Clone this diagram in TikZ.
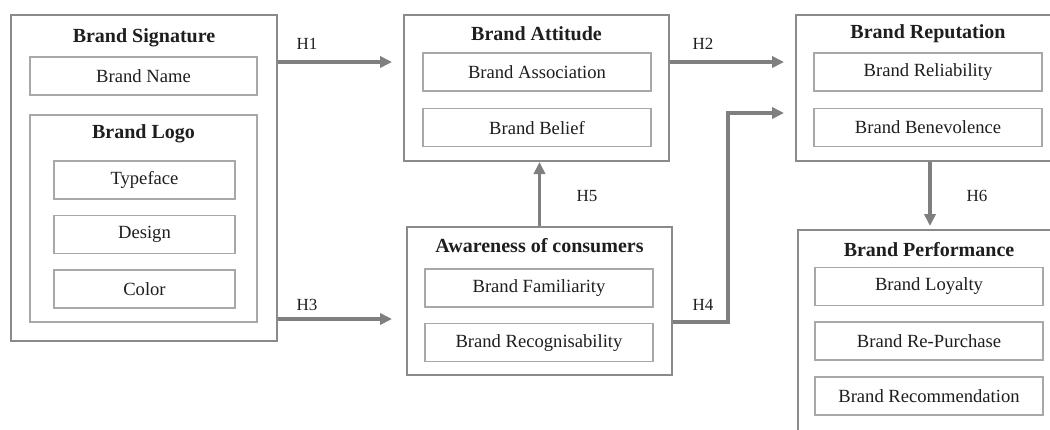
\documentclass[tikz,border=0pt]{standalone}
\usepackage{fontspec}
\setmainfont{Liberation Serif}
\usetikzlibrary{arrows.meta,positioning}
\definecolor{outerline}{HTML}{8A8A8A}
\definecolor{innerline}{HTML}{A8A8A8}
\definecolor{arrowgray}{HTML}{7F7F7F}
\definecolor{inktext}{HTML}{1E1E1E}

\begin{document}
\begin{tikzpicture}[
  x=1pt,y=-1pt,
  group/.style={
    draw=outerline,line width=1pt,fill=white,inner sep=0pt
  },
  item/.style={
    draw=innerline,line width=0.8pt,fill=white,
    minimum width=114pt,minimum height=19pt,inner sep=0pt,
    text=inktext,font=\fontsize{9.3}{11}\selectfont
  },
  small/.style={item,minimum width=90.5pt},
  heading/.style={text=inktext,inner sep=0pt,font=\fontsize{10}{12}\selectfont\bfseries},
  hyp/.style={text=inktext,inner sep=0pt,font=\fontsize{8.5}{10}\selectfont},
  arrow/.style={-{Triangle[length=6pt,width=5.6pt]},draw=arrowgray,line width=1.6pt}
]
\clip (0,0) rectangle (525,214.5);

\node[group,minimum width=133pt,minimum height=163pt] (signature) at (72,89) {};
\node[heading] (sigtitle) at (72,19) {Brand Signature};
\node[item,minimum width=113.5pt] (name) at (71.75,38) {Brand Name};
\node[draw=innerline,line width=0.8pt,minimum width=113.5pt,minimum height=103.5pt]
  (logo) at (71.75,109.25) {};
\node[heading] (logotitle) at (71.75,67) {Brand Logo};
\node[small] (typeface) at (72.25,90) {Typeface};
\node[small,below=7.5pt of typeface] (design) {Design};
\node[small,below=7.5pt of design] (color) {Color};

\node[group,minimum width=132.5pt,minimum height=73pt] (attitude) at (268.25,44) {};
\node[heading] (atttitle) at (268.25,17) {Brand Attitude};
\node[item] (association) at (268.5,36) {Brand Association};
\node[item,below=8pt of association] (belief) {Brand Belief};

\node[group,minimum width=132.5pt,minimum height=74pt] (awareness) at (269.75,150.5) {};
\node[heading] (awaretitle) at (269.75,123) {Awareness of consumers};
\node[item] (familiarity) at (269.5,144) {Brand Familiarity};
\node[item,below=7.5pt of familiarity] (recognise) {Brand Recognisability};

\node[group,minimum width=132pt,minimum height=73pt] (reputation) at (464,44) {};
\node[heading] (reptitle) at (464,17) {Brand Reputation};
\node[item] (reliability) at (464,36) {Brand Reliability};
\node[item,below=8pt of reliability] (benevolence) {Brand Benevolence};

\node[group,minimum width=131pt,minimum height=105pt] (performance) at (464.5,167.5) {};
\node[heading] (perftitle) at (464.5,125) {Brand Performance};
\node[item] (loyalty) at (464.5,143.25) {Brand Loyalty};
\node[item,below=7.5pt of loyalty] (repurchase) {Brand Re-Purchase};
\node[item,below=7.5pt of repurchase] (recommend) {Brand Recommendation};

\coordinate (h1row) at (0,31);
\coordinate (h3row) at (0,159.5);
\coordinate (h4row) at (0,161);
\coordinate (h4turn) at (364,56.5);
\coordinate (h6col) at (465,0);

\draw[arrow,shorten >=5.5pt] (signature.east |- h1row) -- (attitude.west |- h1row);
\draw[arrow,shorten >=5.5pt] (attitude.east |- h1row) -- (reputation.west |- h1row);
\draw[arrow,shorten >=7pt] (signature.east |- h3row) -- (awareness.west |- h3row);
\draw[arrow,shorten >=5.5pt] (awareness.east |- h4row) -| (h4turn)
  -- (reputation.west |- h4turn);
\draw[arrow] (awareness.north) -- (awareness.north |- attitude.south);
\draw[arrow,shorten >=1.5pt] (h6col |- reputation.south) -- (h6col |- performance.north);

\node[hyp] (h1) at (153.5,22) {H1};
\node[hyp] (h2) at (351.5,22) {H2};
\node[hyp] (h3) at (153.5,152.5) {H3};
\node[hyp] (h4) at (351.5,152.5) {H4};
\node[hyp] (h5) at (293.5,98) {H5};
\node[hyp] (h6) at (488.5,98) {H6};

\end{tikzpicture}
\end{document}
